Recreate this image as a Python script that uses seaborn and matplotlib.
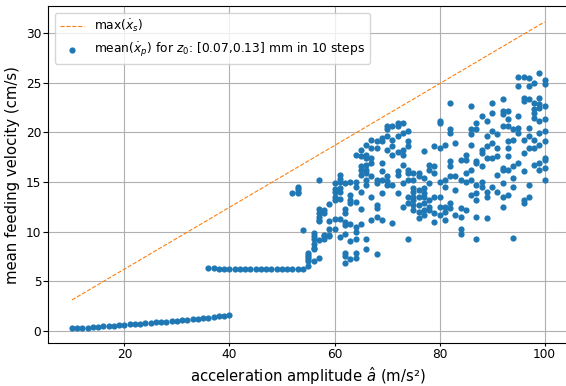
import numpy as np
import pandas as pd
import matplotlib
matplotlib.use("Agg")
import matplotlib.pyplot as plt
import seaborn as sns

# ---- data ----
line_amp = [10, 20, 30, 40, 50, 60, 70, 80, 90, 100]
line_max_vs = [3.11, 6.22, 9.33, 12.44, 15.55, 18.66, 21.77, 24.88, 27.99, 31.10]

low_amp = list(range(10, 41))
low_vel = [0.25, 0.28, 0.31, 0.34, 0.38, 0.42, 0.46, 0.50, 0.54, 0.58, 0.62,
           0.66, 0.70, 0.74, 0.78, 0.82, 0.86, 0.90, 0.94, 0.98, 1.03, 1.08,
           1.13, 1.18, 1.23, 1.28, 1.33, 1.40, 1.47, 1.54, 1.62]

mid_amp = list(range(36, 55))
mid_vel = [6.3, 6.3, 6.25, 6.2, 6.2, 6.2, 6.2, 6.2, 6.2, 6.2, 6.2, 6.2, 6.2,
           6.2, 6.2, 6.2, 6.2, 6.2, 6.2]

cloud_amp = list(range(52, 101))
cloud_vel = [
    [13.9],
    [14.5, 14.3, 14.0, 13.9],
    [10.2],
    [7.8, 7.6, 7.4, 7.2, 7.0, 6.5],
    [9.9, 9.6, 9.2, 8.7, 8.3, 8.2, 7.0],
    [15.2, 12.3, 11.9, 11.5, 11.2, 11.1, 9.1, 7.3],
    [12.2, 11.9, 9.7, 9.5, 9.2],
    [12.8, 11.1, 10.3, 9.7, 9.6],
    [14.9, 14.3, 14.0, 13.5, 13.2, 11.3, 10.3],
    [15.7, 15.3, 15.0, 14.4, 14.0, 13.3, 11.3, 9.4],
    [14.9, 12.3, 11.9, 11.0, 10.7, 9.8, 7.8, 7.5, 6.8],
    [15.0, 13.7, 13.2, 12.9, 10.8, 9.0, 7.2],
    [17.7, 15.0, 14.5, 13.0, 10.5, 10.0, 9.2, 7.8, 7.3],
    [18.2, 17.6, 16.6, 16.2, 15.7, 14.0, 12.3, 10.8],
    [18.7, 17.7, 17.4, 16.7, 16.2, 15.9, 15.2, 14.7, 9.2, 8.2],
    [19.2, 18.4, 17.4, 16.9, 15.6, 13.5, 11.2],
    [19.1, 18.4, 15.2, 14.9, 12.7, 12.4, 11.5, 7.7],
    [19.4, 19.1, 16.9, 16.1, 15.2, 13.9, 11.2],
    [20.6, 20.3, 19.6, 18.2, 15.6, 15.1, 14.7],
    [20.6, 19.2, 18.6, 17.7, 14.7, 10.9],
    [20.9, 20.6, 19.6, 18.0, 16.1, 15.7, 13.9],
    [20.9, 19.9, 18.2, 17.7, 16.7, 14.9, 12.5],
    [20.1, 19.1, 18.6, 16.2, 15.9, 15.2, 13.5, 12.9, 9.2],
    [15.9, 15.2, 14.4, 14.0, 13.5, 13.2, 12.7, 12.2],
    [15.9, 15.6, 14.2, 13.5, 12.7, 12.0, 11.4],
    [18.1, 15.4, 14.4, 13.9, 13.5, 12.9, 12.2, 11.7],
    [16.7, 16.2, 14.9, 13.2, 12.5, 12.2],
    [18.6, 16.6, 15.9, 13.5, 11.9, 11.0],
    [21.1, 20.9, 18.4, 15.0, 13.5, 12.5, 11.7],
    [18.7, 15.2, 14.5, 12.5, 12.0, 11.2],
    [22.9, 20.3, 19.9, 17.1, 16.6, 15.6, 12.9, 12.4],
    [18.9, 15.6, 14.2, 11.7],
    [17.2, 15.2, 12.4, 11.5, 10.3, 9.8],
    [17.7, 17.2, 15.9, 15.0, 12.2],
    [22.6, 20.3, 19.8, 18.7, 16.2, 15.2, 13.7],
    [20.9, 20.3, 17.1, 16.9, 14.7, 13.9, 13.2, 11.5, 9.2],
    [21.6, 18.2, 17.9, 16.6, 15.0, 14.5],
    [21.1, 19.6, 18.6, 17.4, 14.0, 13.5, 11.4],
    [22.9, 21.9, 20.1, 18.9, 17.4, 14.5],
    [19.8, 18.4, 17.6, 15.7, 14.0],
    [23.3, 22.1, 21.8, 20.6, 16.4, 16.2, 14.9, 13.5, 12.5],
    [22.1, 21.3, 20.6, 19.1, 18.4, 17.6, 16.2, 13.7],
    [20.3, 19.2, 16.6, 15.4, 14.5, 9.3],
    [25.6, 24.6, 21.6, 20.4, 19.9, 16.9],
    [25.6, 23.4, 23.1, 19.2, 17.9, 16.1, 13.2, 12.9],
    [25.5, 24.6, 23.3, 20.4, 19.6, 18.4, 14.7, 13.5],
    [25.0, 22.9, 22.3, 21.9, 21.4, 19.2, 18.4, 16.7],
    [26.0, 23.4, 22.8, 22.4, 21.1, 19.9, 18.7, 16.9, 16.2],
    [25.3, 24.8, 22.6, 21.3, 20.1, 19.1, 17.4, 17.2, 16.4, 15.2],
]

label_line = r'max($\dot{x}_s$)'
label_pts = r'mean($\dot{x}_p$) for $z_0$: [0.07,0.13] mm in 10 steps'
x_label = r'acceleration amplitude $\hat{a}$ (m/s²)'
y_label = 'mean feeding velocity (cm/s)'

# ---- build tables ----
cx, cy = [], []
for a, vals in zip(cloud_amp, cloud_vel):
    for v in vals:
        cx.append(a)
        cy.append(v)
pts = pd.DataFrame({
    'amp': low_amp + mid_amp + cx,
    'vel': low_vel + mid_vel + cy,
})
line_df = pd.DataFrame({'amp': line_amp, 'vel': line_max_vs})

plt.rcParams['font.family'] = ['DejaVu Sans']

W, H = 566, 386
fig = plt.figure(figsize=(W / 100, H / 100), dpi=100)
left_px, right_px, top_px, bottom_px = 48.3, 568.2, 6.0, 343.3
ax = fig.add_axes([left_px / W, 1 - bottom_px / H,
                   (right_px - left_px) / W, (bottom_px - top_px) / H])

sns.lineplot(data=line_df, x='amp', y='vel', ax=ax, color='#ff7f0e',
             linestyle='--', linewidth=0.8, label=label_line)
sns.scatterplot(data=pts, x='amp', y='vel', ax=ax, color='#1f77b4',
                s=20, linewidth=0, label=label_pts, zorder=3)

ax.set_xlim(5.5, 104.5)
ax.set_ylim(-1.25, 32.7)
ax.set_xticks([20, 40, 60, 80, 100])
ax.set_yticks([0, 5, 10, 15, 20, 25, 30])
ax.grid(True, color='#b0b0b0', linewidth=0.8)
ax.set_axisbelow(True)
ax.spines['right'].set_visible(False)
ax.set_xlabel(x_label, fontsize=10.75, labelpad=3)
ax.set_ylabel(y_label, fontsize=10.75, labelpad=4)
ax.tick_params(axis='x', labelsize=8.7, length=2.5, pad=1.0)
ax.tick_params(axis='y', labelsize=8.7, length=3.5, pad=1.5)
ax.legend(loc='upper left', fontsize=8.8, borderaxespad=0.55)

fig.savefig('out.png', dpi=100)
